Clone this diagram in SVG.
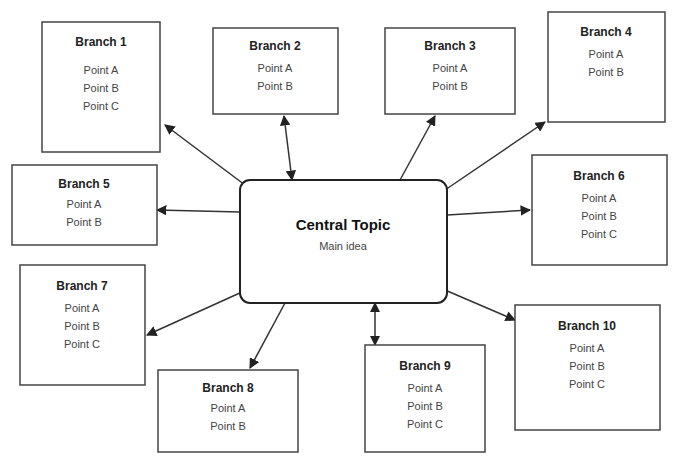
<svg xmlns="http://www.w3.org/2000/svg" width="682" height="459" viewBox="0 0 682 459">
<defs>
<marker id="arr" viewBox="0 0 10 10" refX="9" refY="5" markerWidth="7" markerHeight="7" orient="auto-start-reverse">
<path d="M0,0 L10,5 L0,10 z" fill="#222"/>
</marker>
<style>
.box{fill:#fff;stroke:#444;stroke-width:1.5}
.core{fill:#fff;stroke:#222;stroke-width:2}
.t{font-family:"Liberation Sans",Arial,sans-serif;font-size:12px;font-weight:bold;fill:#222;text-anchor:middle}
.b{font-family:"Liberation Sans",Arial,sans-serif;font-size:11px;fill:#444;text-anchor:middle}
.ct{font-family:"Liberation Sans",Arial,sans-serif;font-size:15px;font-weight:bold;fill:#111;text-anchor:middle}
.c{fill:none;stroke:#333;stroke-width:1.5}
</style>
</defs>
<rect width="682" height="459" fill="#fff"/>
<g id="connectors">
<line class="c" x1="245" y1="185" x2="165" y2="125" marker-end="url(#arr)"/>
<line class="c" x1="292" y1="180" x2="284" y2="116" marker-start="url(#arr)" marker-end="url(#arr)"/>
<line class="c" x1="400" y1="180" x2="435" y2="116" marker-end="url(#arr)"/>
<line class="c" x1="445" y1="190" x2="545" y2="122" marker-end="url(#arr)"/>
<line class="c" x1="447" y1="215" x2="530" y2="210" marker-end="url(#arr)"/>
<line class="c" x1="240" y1="212" x2="157" y2="210" marker-end="url(#arr)"/>
<line class="c" x1="242" y1="292" x2="147" y2="335" marker-end="url(#arr)"/>
<line class="c" x1="285" y1="303" x2="250" y2="368" marker-end="url(#arr)"/>
<line class="c" x1="375" y1="303" x2="375" y2="345" marker-start="url(#arr)" marker-end="url(#arr)"/>
<line class="c" x1="445" y1="290" x2="515" y2="320" marker-end="url(#arr)"/>
</g>
<g id="center">
<rect class="core" x="240" y="180" width="207" height="123" rx="10"/>
<text class="ct" x="343" y="230">Central Topic</text>
<text class="b" x="343" y="250">Main idea</text>
</g>
<g id="n1">
<rect class="box" x="42" y="22" width="118" height="130"/>
<text class="t" x="101" y="46">Branch 1</text>
<text class="b" x="101" y="74">Point A</text>
<text class="b" x="101" y="92">Point B</text>
<text class="b" x="101" y="110">Point C</text>
</g>
<g id="n2">
<rect class="box" x="213" y="28" width="125" height="86"/>
<text class="t" x="275" y="50">Branch 2</text>
<text class="b" x="275" y="72">Point A</text>
<text class="b" x="275" y="90">Point B</text>
</g>
<g id="n3">
<rect class="box" x="385" y="28" width="130" height="86"/>
<text class="t" x="450" y="50">Branch 3</text>
<text class="b" x="450" y="72">Point A</text>
<text class="b" x="450" y="90">Point B</text>
</g>
<g id="n4">
<rect class="box" x="548" y="12" width="117" height="110"/>
<text class="t" x="606" y="36">Branch 4</text>
<text class="b" x="606" y="58">Point A</text>
<text class="b" x="606" y="76">Point B</text>
</g>
<g id="n5">
<rect class="box" x="12" y="165" width="145" height="80"/>
<text class="t" x="84" y="188">Branch 5</text>
<text class="b" x="84" y="208">Point A</text>
<text class="b" x="84" y="226">Point B</text>
</g>
<g id="n6">
<rect class="box" x="532" y="155" width="135" height="110"/>
<text class="t" x="599" y="180">Branch 6</text>
<text class="b" x="599" y="202">Point A</text>
<text class="b" x="599" y="220">Point B</text>
<text class="b" x="599" y="238">Point C</text>
</g>
<g id="n7">
<rect class="box" x="20" y="265" width="125" height="120"/>
<text class="t" x="82" y="290">Branch 7</text>
<text class="b" x="82" y="312">Point A</text>
<text class="b" x="82" y="330">Point B</text>
<text class="b" x="82" y="348">Point C</text>
</g>
<g id="n8">
<rect class="box" x="158" y="370" width="140" height="82"/>
<text class="t" x="228" y="392">Branch 8</text>
<text class="b" x="228" y="412">Point A</text>
<text class="b" x="228" y="430">Point B</text>
</g>
<g id="n9">
<rect class="box" x="365" y="345" width="120" height="107"/>
<text class="t" x="425" y="370">Branch 9</text>
<text class="b" x="425" y="392">Point A</text>
<text class="b" x="425" y="410">Point B</text>
<text class="b" x="425" y="428">Point C</text>
</g>
<g id="n10">
<rect class="box" x="515" y="305" width="145" height="125"/>
<text class="t" x="587" y="330">Branch 10</text>
<text class="b" x="587" y="352">Point A</text>
<text class="b" x="587" y="370">Point B</text>
<text class="b" x="587" y="388">Point C</text>
</g>
</svg>
